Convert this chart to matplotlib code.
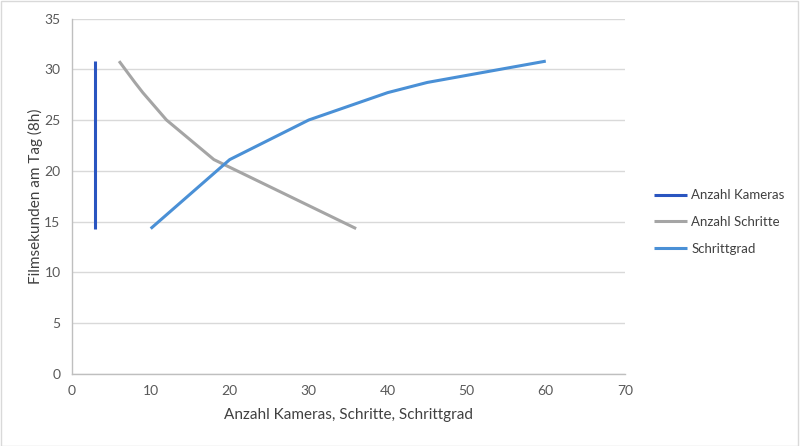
import matplotlib
matplotlib.use("Agg")
import matplotlib.pyplot as plt
from matplotlib.patches import Rectangle

plt.rcParams['font.family'] = ['Lato', 'DejaVu Sans']

filmsekunden = [30.8, 28.7, 27.7, 25.0, 21.1, 14.3]
kameras = [3, 3, 3, 3, 3, 3]
schritte = [6, 8, 9, 12, 18, 36]
schrittgrad = [60, 45, 40, 30, 20, 10]

series_names = ["Anzahl Kameras", "Anzahl Schritte", "Schrittgrad"]
colors = ["#2A55C0", "#A5A5A5", "#4A90D6"]

fig = plt.figure(figsize=(8, 4.46), dpi=100)
ax = fig.add_axes([0.0896, 0.162, 0.6914, 0.7965])

for xs, name, c in zip([kameras, schritte, schrittgrad], series_names, colors):
    ax.plot(xs, filmsekunden, color=c, lw=2.2, label=name, solid_capstyle='butt')

ax.set_xlim(0, 70)
ax.set_ylim(0, 35)
ax.set_xticks(range(0, 71, 10))
ax.set_yticks(range(0, 36, 5))
ax.grid(axis='y', color='#D9D9D9', lw=1)
ax.set_axisbelow(True)
for s in ['top', 'right']:
    ax.spines[s].set_visible(False)
for s in ['left', 'bottom']:
    ax.spines[s].set_color('#BFBFBF')
    ax.spines[s].set_linewidth(1)
ax.tick_params(length=0, labelsize=10, colors='#595959', pad=8)
ax.set_xlabel("Anzahl Kameras, Schritte, Schrittgrad", fontsize=11, color='#404040', labelpad=8)
ax.set_ylabel("Filmsekunden am Tag (8h)", fontsize=11, color='#404040', labelpad=1)

leg = fig.legend(loc='center left', bbox_to_anchor=(0.803, 0.502), frameon=False,
                 fontsize=9.5, handlelength=2.5, handletextpad=0.3, labelspacing=1.12)
for t in leg.get_texts():
    t.set_color('#404040')

fig.patches.append(Rectangle((0.001, 0.001), 0.997, 0.997, transform=fig.transFigure,
                             fill=False, edgecolor='#D9D9D9', lw=1))

fig.savefig("out.png", dpi=100)
